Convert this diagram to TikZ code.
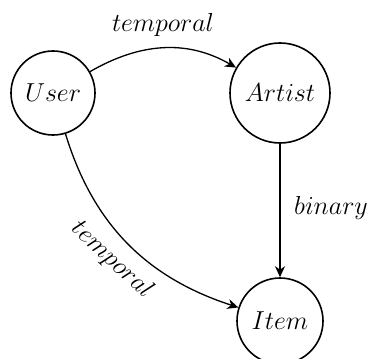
\RequirePackage{fix-cm}
\documentclass[tikz,border=0pt]{standalone}
\usetikzlibrary{arrows.meta}
\begin{document}
\begin{tikzpicture}[x=1pt,y=-1pt,
  entity/.style={circle,draw,line width=1.6pt,inner sep=0pt,font=\fontsize{26}{30}\selectfont},
  rel/.style={line width=1.3pt,-{Stealth[length=11pt,width=10pt,inset=3.5pt]}},
  lbl/.style={font=\fontsize{26}{30}\selectfont,inner sep=0pt}]
\useasboundingbox (0,0) rectangle (374,358);
\begin{scope}
\clip (0,0) rectangle (374,358);
\node[entity,minimum size=84pt] (user) at (53,93) {$User$};
\node[entity,minimum size=100pt] (artist) at (280,93) {$Artist$};
\node[entity,minimum size=86pt] (item) at (280,321) {$Item$};
\draw[rel] (user) to[out=30,in=150] (artist);
\draw[rel] (user) to[out=-73,in=162] (item);
\draw[rel] (artist) -- (item);
\end{scope}
\node[lbl] (t1) at (163,25) {$temporal$};
\node[lbl] (b1) at (331,208) {$binary$};
\node[lbl,rotate=-43] (t2) at (112,260) {$temporal$};
\end{tikzpicture}
\end{document}
